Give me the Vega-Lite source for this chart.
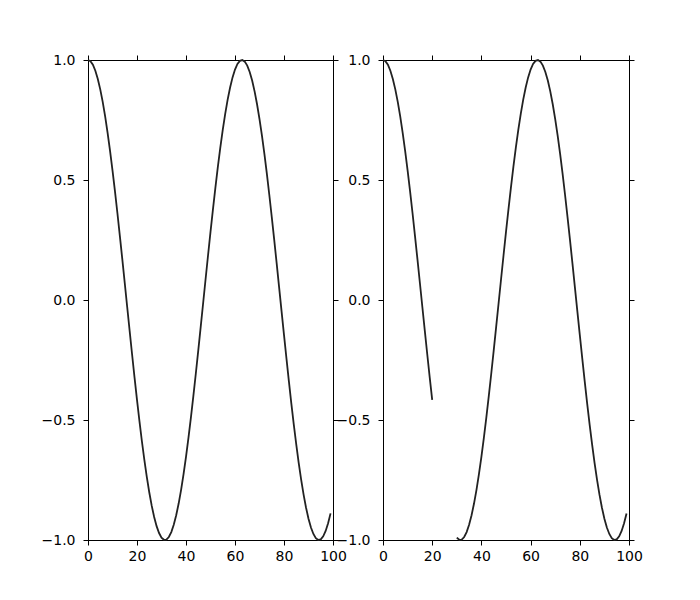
{
  "$schema": "https://vega.github.io/schema/vega-lite/v6.json",
  "background": "white",
  "padding": {"left": 40, "top": 52, "right": 5, "bottom": 5},
  "bounds": "flush",
  "spacing": 50,
  "config": {
    "font": "DejaVu Sans",
    "view": {"stroke": "black", "strokeWidth": 1},
    "axis": {
      "grid": false,
      "domainColor": "black",
      "domainWidth": 1,
      "tickColor": "black",
      "tickWidth": 1,
      "tickSize": 5,
      "labelColor": "black",
      "labelFont": "DejaVu Sans",
      "labelFontSize": 14,
      "labelFlush": false,
      "labelOverlap": false,
      "title": null
    }
  },
  "datasets": {
    "cos": [
      {"x": 0, "y": 1.0, "seg": "a"},
      {"x": 1, "y": 0.995, "seg": "a"},
      {"x": 2, "y": 0.9801, "seg": "a"},
      {"x": 3, "y": 0.9553, "seg": "a"},
      {"x": 4, "y": 0.9211, "seg": "a"},
      {"x": 5, "y": 0.8776, "seg": "a"},
      {"x": 6, "y": 0.8253, "seg": "a"},
      {"x": 7, "y": 0.7648, "seg": "a"},
      {"x": 8, "y": 0.6967, "seg": "a"},
      {"x": 9, "y": 0.6216, "seg": "a"},
      {"x": 10, "y": 0.5403, "seg": "a"},
      {"x": 11, "y": 0.4536, "seg": "a"},
      {"x": 12, "y": 0.3624, "seg": "a"},
      {"x": 13, "y": 0.2675, "seg": "a"},
      {"x": 14, "y": 0.17, "seg": "a"},
      {"x": 15, "y": 0.0707, "seg": "a"},
      {"x": 16, "y": -0.0292, "seg": "a"},
      {"x": 17, "y": -0.1288, "seg": "a"},
      {"x": 18, "y": -0.2272, "seg": "a"},
      {"x": 19, "y": -0.3233, "seg": "a"},
      {"x": 20, "y": -0.4161, "seg": "a"},
      {"x": 21, "y": -0.5048, "seg": "b"},
      {"x": 22, "y": -0.5885, "seg": "b"},
      {"x": 23, "y": -0.6663, "seg": "b"},
      {"x": 24, "y": -0.7374, "seg": "b"},
      {"x": 25, "y": -0.8011, "seg": "b"},
      {"x": 26, "y": -0.8569, "seg": "b"},
      {"x": 27, "y": -0.9041, "seg": "b"},
      {"x": 28, "y": -0.9422, "seg": "b"},
      {"x": 29, "y": -0.971, "seg": "b"},
      {"x": 30, "y": -0.99, "seg": "c"},
      {"x": 31, "y": -0.9991, "seg": "c"},
      {"x": 32, "y": -0.9983, "seg": "c"},
      {"x": 33, "y": -0.9875, "seg": "c"},
      {"x": 34, "y": -0.9668, "seg": "c"},
      {"x": 35, "y": -0.9365, "seg": "c"},
      {"x": 36, "y": -0.8968, "seg": "c"},
      {"x": 37, "y": -0.8481, "seg": "c"},
      {"x": 38, "y": -0.791, "seg": "c"},
      {"x": 39, "y": -0.7259, "seg": "c"},
      {"x": 40, "y": -0.6536, "seg": "c"},
      {"x": 41, "y": -0.5748, "seg": "c"},
      {"x": 42, "y": -0.4903, "seg": "c"},
      {"x": 43, "y": -0.4008, "seg": "c"},
      {"x": 44, "y": -0.3073, "seg": "c"},
      {"x": 45, "y": -0.2108, "seg": "c"},
      {"x": 46, "y": -0.1122, "seg": "c"},
      {"x": 47, "y": -0.0124, "seg": "c"},
      {"x": 48, "y": 0.0875, "seg": "c"},
      {"x": 49, "y": 0.1865, "seg": "c"},
      {"x": 50, "y": 0.2837, "seg": "c"},
      {"x": 51, "y": 0.378, "seg": "c"},
      {"x": 52, "y": 0.4685, "seg": "c"},
      {"x": 53, "y": 0.5544, "seg": "c"},
      {"x": 54, "y": 0.6347, "seg": "c"},
      {"x": 55, "y": 0.7087, "seg": "c"},
      {"x": 56, "y": 0.7756, "seg": "c"},
      {"x": 57, "y": 0.8347, "seg": "c"},
      {"x": 58, "y": 0.8855, "seg": "c"},
      {"x": 59, "y": 0.9275, "seg": "c"},
      {"x": 60, "y": 0.9602, "seg": "c"},
      {"x": 61, "y": 0.9833, "seg": "c"},
      {"x": 62, "y": 0.9965, "seg": "c"},
      {"x": 63, "y": 0.9999, "seg": "c"},
      {"x": 64, "y": 0.9932, "seg": "c"},
      {"x": 65, "y": 0.9766, "seg": "c"},
      {"x": 66, "y": 0.9502, "seg": "c"},
      {"x": 67, "y": 0.9144, "seg": "c"},
      {"x": 68, "y": 0.8694, "seg": "c"},
      {"x": 69, "y": 0.8157, "seg": "c"},
      {"x": 70, "y": 0.7539, "seg": "c"},
      {"x": 71, "y": 0.6846, "seg": "c"},
      {"x": 72, "y": 0.6084, "seg": "c"},
      {"x": 73, "y": 0.5262, "seg": "c"},
      {"x": 74, "y": 0.4385, "seg": "c"},
      {"x": 75, "y": 0.3466, "seg": "c"},
      {"x": 76, "y": 0.2513, "seg": "c"},
      {"x": 77, "y": 0.1534, "seg": "c"},
      {"x": 78, "y": 0.0539, "seg": "c"},
      {"x": 79, "y": -0.0460, "seg": "c"},
      {"x": 80, "y": -0.1455, "seg": "c"},
      {"x": 81, "y": -0.2435, "seg": "c"},
      {"x": 82, "y": -0.3391, "seg": "c"},
      {"x": 83, "y": -0.4314, "seg": "c"},
      {"x": 84, "y": -0.5193, "seg": "c"},
      {"x": 85, "y": -0.602, "seg": "c"},
      {"x": 86, "y": -0.6787, "seg": "c"},
      {"x": 87, "y": -0.7486, "seg": "c"},
      {"x": 88, "y": -0.8111, "seg": "c"},
      {"x": 89, "y": -0.8654, "seg": "c"},
      {"x": 90, "y": -0.9111, "seg": "c"},
      {"x": 91, "y": -0.9477, "seg": "c"},
      {"x": 92, "y": -0.9748, "seg": "c"},
      {"x": 93, "y": -0.9922, "seg": "c"},
      {"x": 94, "y": -0.9997, "seg": "c"},
      {"x": 95, "y": -0.9972, "seg": "c"},
      {"x": 96, "y": -0.9847, "seg": "c"},
      {"x": 97, "y": -0.9624, "seg": "c"},
      {"x": 98, "y": -0.9304, "seg": "c"},
      {"x": 99, "y": -0.8892, "seg": "c"}
    ]
  },
  "hconcat": [
    {
      "width": 245,
      "height": 480,
      "data": {"name": "cos"},
      "layer": [
        {
          "mark": {"type": "line", "color": "#222222", "strokeWidth": 1.8},
          "encoding": {
            "x": {"field": "x", "type": "quantitative", "scale": {"domain": [0, 100], "nice": false, "zero": false}, "axis": {"orient": "bottom", "values": [0, 20, 40, 60, 80, 100], "labelPadding": 4, "labelFontSize": 14, "labelFlush": false}},
            "y": {"field": "y", "type": "quantitative", "scale": {"domain": [-1, 1], "nice": false, "zero": false}, "axis": {"orient": "left", "values": [-1, -0.5, 0, 0.5, 1], "format": ".1f", "labelPadding": 8, "labelFontSize": 14, "labelFlush": false}},
            "order": {"field": "x", "type": "quantitative"}
          }
        },
        {
          "mark": {"type": "line", "opacity": 0},
          "encoding": {
            "x": {"field": "x", "type": "quantitative", "scale": {"domain": [0, 100], "nice": false, "zero": false}, "axis": {"orient": "top", "values": [0, 20, 40, 60, 80, 100], "labels": false}},
            "y": {"field": "y", "type": "quantitative", "scale": {"domain": [-1, 1], "nice": false, "zero": false}, "axis": {"orient": "right", "values": [-1, -0.5, 0, 0.5, 1], "labels": false}}
          }
        }
      ],
      "resolve": {"scale": {"x": "independent", "y": "independent"}, "axis": {"x": "independent", "y": "independent"}}
    },
    {
      "width": 246,
      "height": 480,
      "data": {"name": "cos"},
      "transform": [{"filter": "datum.seg !== 'b'"}],
      "layer": [
        {
          "mark": {"type": "line", "color": "#222222", "strokeWidth": 1.8},
          "encoding": {
            "x": {"field": "x", "type": "quantitative", "scale": {"domain": [0, 100], "nice": false, "zero": false}, "axis": {"orient": "bottom", "values": [0, 20, 40, 60, 80, 100], "labelPadding": 4, "labelFontSize": 14, "labelFlush": false}},
            "y": {"field": "y", "type": "quantitative", "scale": {"domain": [-1, 1], "nice": false, "zero": false}, "axis": {"orient": "left", "values": [-1, -0.5, 0, 0.5, 1], "format": ".1f", "labelPadding": 8, "labelFontSize": 14, "labelFlush": false}},
            "detail": {"field": "seg", "type": "nominal"},
            "order": {"field": "x", "type": "quantitative"}
          }
        },
        {
          "mark": {"type": "line", "opacity": 0},
          "encoding": {
            "x": {"field": "x", "type": "quantitative", "scale": {"domain": [0, 100], "nice": false, "zero": false}, "axis": {"orient": "top", "values": [0, 20, 40, 60, 80, 100], "labels": false}},
            "y": {"field": "y", "type": "quantitative", "scale": {"domain": [-1, 1], "nice": false, "zero": false}, "axis": {"orient": "right", "values": [-1, -0.5, 0, 0.5, 1], "labels": false}}
          }
        }
      ],
      "resolve": {"scale": {"x": "independent", "y": "independent"}, "axis": {"x": "independent", "y": "independent"}}
    }
  ]
}
